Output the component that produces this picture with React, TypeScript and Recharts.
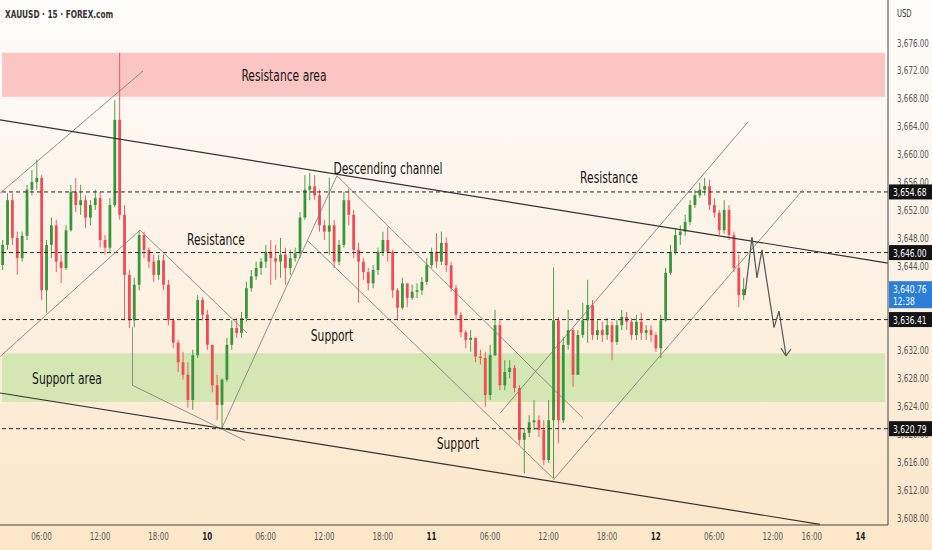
import { Bar, ComposedChart, ReferenceArea, ReferenceDot, ReferenceLine, XAxis, YAxis } from 'recharts'

// XAUUSD, 30-minute candles (open = previous close)
const firstOpen = 3644.2
const closes = [
  3647.1, 3653.5, 3648.1, 3645.2, 3648.4, 3655.0, 3656.1, 3656.7, 3640.6, 3647.1,
  3649.9, 3644.7, 3643.8, 3649.2, 3654.7, 3652.8, 3653.5, 3651.0, 3652.8, 3653.8,
  3647.8, 3646.7, 3652.8, 3665.0, 3651.4, 3642.8, 3636.3, 3641.4, 3648.5, 3646.4,
  3644.7, 3642.8, 3644.9, 3641.4, 3636.3, 3633.1, 3630.3, 3628.5, 3624.9, 3631.3,
  3639.2, 3637.1, 3632.8, 3627.0, 3624.2, 3627.8, 3632.8, 3635.2, 3634.5, 3636.6,
  3640.9, 3642.6, 3643.8, 3644.7, 3646.1, 3645.2, 3644.7, 3645.7, 3643.8, 3645.2,
  3645.9, 3651.0, 3655.0, 3655.5, 3654.2, 3649.9, 3649.0, 3649.9, 3644.7, 3647.1,
  3653.5, 3651.4, 3646.4, 3644.7, 3643.2, 3641.6, 3643.5, 3646.1, 3647.8, 3646.1,
  3640.6, 3638.1, 3641.6, 3639.5, 3640.4, 3640.6, 3641.8, 3644.2, 3646.1, 3644.7,
  3647.4, 3644.2, 3640.9, 3637.1, 3634.6, 3633.5, 3633.8, 3631.1, 3630.9, 3625.6,
  3631.3, 3635.6, 3627.0, 3628.9, 3629.5, 3626.6, 3619.2, 3620.2, 3621.7, 3622.0,
  3620.6, 3616.3, 3622.0, 3636.3, 3622.0, 3632.8, 3634.9, 3628.5, 3634.2, 3636.3,
  3638.5, 3634.2, 3634.9, 3634.2, 3635.6, 3633.2, 3635.6, 3636.8, 3636.1, 3634.2,
  3636.1, 3634.5, 3634.9, 3634.2, 3632.3, 3636.3, 3643.1, 3646.1, 3648.5, 3649.0,
  3650.4, 3652.8, 3654.2, 3655.0, 3655.5, 3652.8, 3651.7, 3649.2, 3652.1, 3648.5,
  3643.8, 3639.9, 3640.76,
]
const highs = [
  3647.8, 3654.5, 3654.5, 3649.0, 3649.0, 3655.7, 3657.8, 3659.3, 3657.1, 3647.8,
  3651.0, 3650.7, 3645.7, 3649.9, 3655.7, 3656.7, 3655.7, 3654.2, 3653.5, 3655.0,
  3654.7, 3648.5, 3653.8, 3667.8, 3674.6, 3652.8, 3643.5, 3642.4, 3649.2, 3649.0,
  3646.7, 3645.7, 3645.7, 3645.7, 3642.1, 3636.6, 3633.5, 3631.8, 3630.3, 3632.1,
  3639.9, 3639.6, 3637.8, 3632.1, 3628.5, 3628.0, 3633.8, 3636.3, 3636.6, 3637.5,
  3641.8, 3643.5, 3644.7, 3645.2, 3647.1, 3647.8, 3647.1, 3648.1, 3646.7, 3646.4,
  3646.7, 3651.8, 3657.1, 3657.4, 3657.1, 3655.0, 3650.7, 3656.7, 3650.7, 3647.8,
  3654.7, 3655.2, 3652.1, 3647.4, 3645.2, 3643.8, 3644.2, 3646.7, 3649.0, 3649.7,
  3646.4, 3640.9, 3642.4, 3641.4, 3641.4, 3641.6, 3642.5, 3645.2, 3646.7, 3648.8,
  3649.0, 3648.2, 3644.7, 3641.4, 3637.5, 3634.9, 3634.9, 3633.8, 3632.1, 3631.8,
  3632.8, 3637.8, 3636.3, 3630.6, 3630.6, 3629.9, 3627.0, 3620.9, 3622.7, 3624.9,
  3622.7, 3622.0, 3624.9, 3643.9, 3636.8, 3633.9, 3637.8, 3635.2, 3634.9, 3638.8,
  3642.1, 3639.2, 3636.3, 3636.1, 3636.6, 3636.1, 3636.3, 3637.8, 3637.5, 3636.6,
  3637.1, 3637.4, 3635.6, 3635.6, 3634.6, 3637.1, 3643.8, 3647.1, 3649.5, 3649.9,
  3651.4, 3653.5, 3655.0, 3656.0, 3656.7, 3656.4, 3653.8, 3652.1, 3653.5, 3652.8,
  3649.0, 3645.7, 3642.4,
]
const lows = [
  3643.5, 3646.4, 3647.1, 3642.8, 3644.7, 3647.8, 3654.2, 3655.0, 3639.2, 3637.4,
  3645.2, 3643.2, 3641.6, 3643.5, 3649.0, 3651.8, 3651.4, 3649.5, 3649.9, 3652.1,
  3646.7, 3645.7, 3646.1, 3652.5, 3650.7, 3636.3, 3635.2, 3635.3, 3640.6, 3645.2,
  3643.8, 3641.8, 3642.1, 3640.6, 3635.6, 3632.3, 3628.9, 3627.8, 3623.8, 3623.5,
  3630.9, 3636.3, 3632.1, 3626.0, 3622.0, 3620.9, 3627.5, 3632.1, 3633.8, 3633.8,
  3636.1, 3640.4, 3642.1, 3642.8, 3643.8, 3641.4, 3642.1, 3642.4, 3641.4, 3642.8,
  3644.7, 3645.2, 3650.7, 3653.5, 3653.5, 3649.0, 3647.8, 3645.7, 3643.8, 3644.2,
  3646.7, 3649.9, 3645.2, 3638.8, 3642.1, 3640.6, 3640.9, 3642.8, 3645.5, 3644.7,
  3639.5, 3636.3, 3637.8, 3638.2, 3639.2, 3639.5, 3639.9, 3641.4, 3643.8, 3643.8,
  3644.2, 3643.2, 3640.4, 3636.3, 3633.9, 3632.3, 3631.8, 3630.3, 3630.0, 3623.9,
  3624.9, 3631.2, 3626.3, 3626.3, 3628.0, 3626.0, 3618.5, 3614.4, 3619.6, 3620.6,
  3619.6, 3615.6, 3615.9, 3613.7, 3618.7, 3621.6, 3632.1, 3626.8, 3629.2, 3633.8,
  3633.1, 3633.5, 3633.5, 3633.2, 3633.5, 3630.6, 3632.8, 3634.9, 3634.9, 3633.5,
  3633.5, 3633.5, 3633.5, 3633.2, 3631.8, 3630.9, 3636.1, 3642.8, 3645.7, 3647.1,
  3648.4, 3649.9, 3652.4, 3653.8, 3654.2, 3652.1, 3651.0, 3648.5, 3648.7, 3647.8,
  3643.2, 3638.2, 3639.2,
]

// time axis: bar index of the 30m candles
const timeTicks = [8, 20, 32, 42, 54, 66, 78, 88, 100, 112, 124, 134, 146, 158, 166, 176]
const timeLabels = ['06:00', '12:00', '18:00', '10', '06:00', '12:00', '18:00', '11', '06:00', '12:00', '18:00', '12', '06:00', '12:00', '16:00', '14']
const priceTicks = [3676, 3672, 3668, 3664, 3660, 3656, 3652, 3648, 3644, 3632, 3628, 3624, 3620, 3616, 3612, 3608]

const levels = [3654.68, 3646.0, 3636.41, 3620.79]
const lastPrice = 3640.76
const lastCountdown = '12:38'
const resistanceArea = [3668.3, 3674.6]
const supportArea = [3624.6, 3631.6]

// drawings: [x1, y1, x2, y2] in bar index / price
const channelLines = [
  [-0.53, 3665.0, 181.62, 3644.5],
  [-0.53, 3625.9, 167.67, 3607.1],
]
const thinLines = [
  [-0.53, 3654.5, 28.8, 3672.0],
  [-0.53, 3631.1, 28.18, 3649.2],
  [28.18, 3649.2, 50.13, 3634.5],
  [26.65, 3635.3, 26.65, 3627.0],
  [26.65, 3627.0, 49.72, 3619.1],
  [45.0, 3620.9, 68.59, 3657.0],
  [68.59, 3657.0, 119.06, 3622.3],
  [62.44, 3647.8, 112.9, 3613.7],
  [102.03, 3623.0, 152.9, 3664.7],
  [112.9, 3613.4, 164.18, 3655.0],
]
const pathX = [152.29, 153.72, 154.75, 155.77, 158.24, 159.26, 160.7]
const pathY = [3639.9, 3648.2, 3642.4, 3646.4, 3635.3, 3637.6, 3631.3]
const arrowX = [159.67, 160.7, 161.72]
const arrowY = [3632.3, 3631.2, 3632.2]

const notes = [
  { x: 57.72, y: 3671.4, text: 'Resistance area', angle: 0 },
  { x: 79.06, y: 3658.0, text: 'Descending channel', angle: 9 },
  { x: 43.77, y: 3647.9, text: 'Resistance', angle: 0 },
  { x: 124.39, y: 3656.8, text: 'Resistance', angle: 0 },
  { x: 67.57, y: 3634.2, text: 'Support', angle: 0 },
  { x: 13.21, y: 3628.0, text: 'Support area', angle: 0 },
  { x: 93.41, y: 3618.7, text: 'Support', angle: 0 },
]

const FONT = "'DejaVu Sans Condensed', 'DejaVu Sans', sans-serif"
const GREEN = '#37963b'
const RED = '#f04b57'

const candles = closes.map((close, i) => {
  const open = i === 0 ? firstOpen : closes[i - 1]
  return { i, open, close, high: highs[i], low: lows[i], range: [lows[i], highs[i]] }
})

const fmt = (v: number) => v.toLocaleString('en-US', { minimumFractionDigits: 2, maximumFractionDigits: 2 })

function Candle(props: any) {
  const { x, y, width, height, payload } = props
  if (x == null || !payload) return null
  const top = Math.min(y, y + height)
  const h = Math.abs(height)
  const span = payload.high - payload.low
  const k = span ? h / span : 0
  const bodyTop = top + (payload.high - Math.max(payload.open, payload.close)) * k
  const bodyBottom = top + (payload.high - Math.min(payload.open, payload.close)) * k
  const cx = x + width / 2
  const color = payload.close >= payload.open ? GREEN : RED
  return (
    <g>
      <line x1={cx} x2={cx} y1={top} y2={top + h} stroke={color} strokeWidth={0.9} />
      <rect x={cx - 1.4} y={bodyTop} width={2.8} height={Math.max(1, bodyBottom - bodyTop)} fill={color} />
    </g>
  )
}

// price axis: plain ticks first, then the level tags so they sit on top
function PriceTick({ x, y, payload }: any) {
  const v = payload.value
  const bx = x - 7
  if (v === lastPrice) {
    return (
      <g>
        <rect x={bx} y={y - 8} width={43} height={27} fill="#2b7fd6" />
        <text transform={`translate(${bx + 4},${y + 4}) scale(0.8,1)`} fill="#fff" fontSize={10.5} fontFamily={FONT}>
          {fmt(v)}
        </text>
        <text transform={`translate(${bx + 4},${y + 16}) scale(0.8,1)`} fill="#fff" fontSize={10.5} fontFamily={FONT}>
          {lastCountdown}
        </text>
      </g>
    )
  }
  if (levels.includes(v)) {
    return (
      <g>
        <rect x={bx} y={y - 7.5} width={43} height={15} fill="#131313" />
        <text transform={`translate(${bx + 4},${y + 4}) scale(0.8,1)`} fill="#fff" fontSize={10.5} fontFamily={FONT}>
          {fmt(v)}
        </text>
      </g>
    )
  }
  return (
    <text transform={`translate(${x + 1},${y + 3.5}) scale(0.76,1)`} fill="#555" fontSize={10.5} fontFamily={FONT}>
      {fmt(v)}
    </text>
  )
}

function Note({ viewBox, text, angle }: any) {
  if (!viewBox) return null
  const cx = viewBox.x + viewBox.width / 2
  const cy = viewBox.y + viewBox.height / 2
  return (
    <text
      transform={`translate(${cx},${cy}) rotate(${angle}) scale(0.77,1)`}
      textAnchor="middle"
      dominantBaseline="central"
      fontSize={15.5}
      fill="#151515"
      fontFamily={FONT}
    >
      {text}
    </text>
  )
}

function TimeTick({ x, y, payload }: any) {
  const label = timeLabels[timeTicks.indexOf(payload.value)]
  const isDay = label && !label.includes(':')
  return (
    <text
      transform={`translate(${x},${y + 7}) scale(0.76,1)`}
      textAnchor="middle"
      fontSize={10.5}
      fontFamily={FONT}
      fill={isDay ? '#222' : '#5a5a5a'}
      fontWeight={isDay ? 600 : 400}
    >
      {label}
    </text>
  )
}

export default function App() {
  return (
    <div
      style={{
        position: 'fixed',
        left: 0,
        top: 0,
        width: 932,
        height: 550,
        background: 'linear-gradient(180deg, #fefdfb 0%, #fdf3e6 45%, #fce6c8 100%)',
        fontFamily: FONT,
      }}
    >
      <div
        style={{
          position: 'absolute',
          left: 5,
          top: 8,
          fontSize: 10.5,
          fontWeight: 600,
          color: '#333',
          whiteSpace: 'nowrap',
          transform: 'scaleX(0.78)',
          transformOrigin: '0 0',
        }}
      >
        XAUUSD · 15 · FOREX.com
      </div>
      <div
        style={{ position: 'absolute', left: 897, top: 8, fontSize: 10, color: '#333', transform: 'scaleX(0.76)', transformOrigin: '0 0' }}
      >
        USD
      </div>
      <ComposedChart width={932} height={550} data={candles} margin={{ top: 0, right: 0, bottom: 0, left: 0 }}>
        <XAxis
          dataKey="i"
          type="number"
          domain={[-0.53, 181.62]}
          allowDataOverflow
          ticks={timeTicks}
          tick={<TimeTick />}
          tickLine={false}
          axisLine={{ stroke: '#444' }}
          height={25}
          interval={0}
        />
        <YAxis
          orientation="right"
          domain={[3607.0, 3682.16]}
          allowDataOverflow
          ticks={[...priceTicks, ...levels, lastPrice]}
          interval={0}
          tick={<PriceTick />}
          tickLine={false}
          axisLine={{ stroke: '#444' }}
          width={44}
        />
        <ReferenceArea x1={-0.1} x2={181} y1={resistanceArea[0]} y2={resistanceArea[1]} fill="#fbc5c4" fillOpacity={1} stroke="none" />
        <ReferenceArea x1={-0.1} x2={181} y1={supportArea[0]} y2={supportArea[1]} fill="#d3e6b3" fillOpacity={1} stroke="none" />
        {levels.map((p) => (
          <ReferenceLine key={p} y={p} stroke="#2a2a2a" strokeDasharray="4 3" />
        ))}
        {thinLines.map((s, n) => (
          <ReferenceLine
            key={`t${n}`}
            segment={[{ x: s[0], y: s[1] }, { x: s[2], y: s[3] }]}
            stroke="#777"
            strokeWidth={0.8}
            ifOverflow="hidden"
          />
        ))}
        {channelLines.map((s, n) => (
          <ReferenceLine
            key={`c${n}`}
            segment={[{ x: s[0], y: s[1] }, { x: s[2], y: s[3] }]}
            stroke="#333"
            strokeWidth={1.2}
            ifOverflow="hidden"
          />
        ))}
        <Bar dataKey="range" barSize={3} shape={<Candle />} isAnimationActive={false} />
        {pathX.slice(1).map((x, n) => (
          <ReferenceLine
            key={`p${n}`}
            segment={[{ x: pathX[n], y: pathY[n] }, { x, y: pathY[n + 1] }]}
            stroke="#555"
            strokeWidth={1.2}
          />
        ))}
        {arrowX.slice(1).map((x, n) => (
          <ReferenceLine
            key={`a${n}`}
            segment={[{ x: arrowX[n], y: arrowY[n] }, { x, y: arrowY[n + 1] }]}
            stroke="#555"
            strokeWidth={1.2}
          />
        ))}
        {notes.map((n) => (
          <ReferenceDot
            key={`${n.text}${n.x}`}
            x={n.x}
            y={n.y}
            r={1}
            fill="none"
            stroke="none"
            label={<Note text={n.text} angle={n.angle} />}
          />
        ))}
      </ComposedChart>
    </div>
  )
}
